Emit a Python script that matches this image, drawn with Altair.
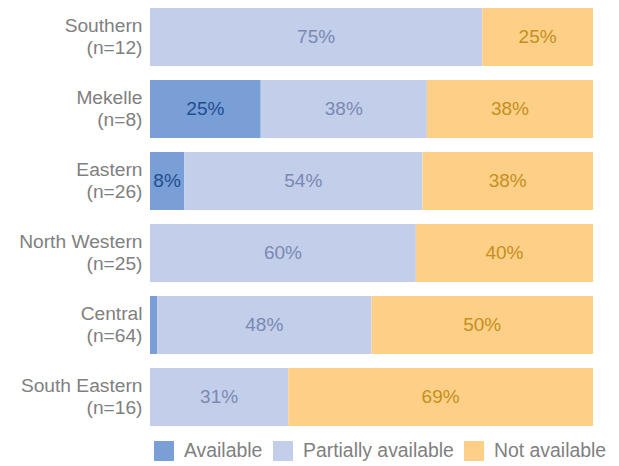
import altair as alt
import pandas as pd

regions = ["Southern\n(n=12)", "Mekelle\n(n=8)", "Eastern\n(n=26)",
           "North Western\n(n=25)", "Central\n(n=64)", "South Eastern\n(n=16)"]
categories = ["Available", "Partially available", "Not available"]
available = [0, 25, 7.7, 0, 1.6, 0]
partial = [75, 37.5, 53.8, 60, 48.4, 31.2]
not_available = [25, 37.5, 38.5, 40, 50, 68.8]

colors = ["#7A9ED6", "#C3CEEA", "#FED087"]
text_colors = ["#1F4E8F", "#7A89B3", "#C48F1E"]

rows = []
for i, r in enumerate(regions):
    start = 0.0
    for c, vals in zip(categories, [available, partial, not_available]):
        v = vals[i]
        rows.append({"region": r, "cat": c, "start": start, "end": start + v,
                     "mid": start + v / 2, "value": v,
                     "label": f"{round(v)}%" if v >= 5 else ""})
        start += v
df = pd.DataFrame(rows)

y = alt.Y("region:N", sort=regions, title=None,
          scale=alt.Scale(paddingInner=0.1944, paddingOuter=0),
          axis=alt.Axis(labelExpr="split(datum.label, '\\n')", ticks=False, domain=False,
                        labelFontSize=19.2, labelFont="Liberation Sans", labelColor="#808080",
                        labelPadding=8, labelLineHeight=22, labelAlign="right",
                        labelBaseline="middle", labelOffset=-11))

bars = alt.Chart(df).mark_bar(cornerRadius=0).encode(
    y=y,
    x=alt.X("start:Q", scale=alt.Scale(domain=[0, 100], nice=False), axis=None),
    x2="end:Q",
    color=alt.Color("cat:N", sort=categories,
                    scale=alt.Scale(domain=categories, range=colors),
                    legend=alt.Legend(title=None, orient="none", direction="horizontal",
                                      legendX=4, legendY=433, symbolType="square",
                                      symbolSize=400, symbolStrokeWidth=0, symbolOpacity=1,
                                      labelFontSize=19.4, labelFont="Liberation Sans",
                                      labelColor="#808080", labelOffset=10,
                                      columnPadding=10, padding=0)),
)

texts = alt.Chart(df).mark_text(font="Liberation Sans", fontSize=19, baseline="middle").encode(
    y=alt.Y("region:N", sort=regions),
    x=alt.X("mid:Q"),
    text="label:N",
    color=alt.Color("cat:N", scale=alt.Scale(domain=categories, range=text_colors), legend=None),
)

chart = alt.layer(bars, texts).resolve_scale(color="independent").properties(
    width=443, height=418,
    autosize=alt.AutoSizeParams(type="none"),
    padding={"left": 142, "top": 0, "right": 18, "bottom": 40},
).configure_view(stroke=None)

chart.save("out.html", embed_options={"renderer": "svg", "actions": False})
